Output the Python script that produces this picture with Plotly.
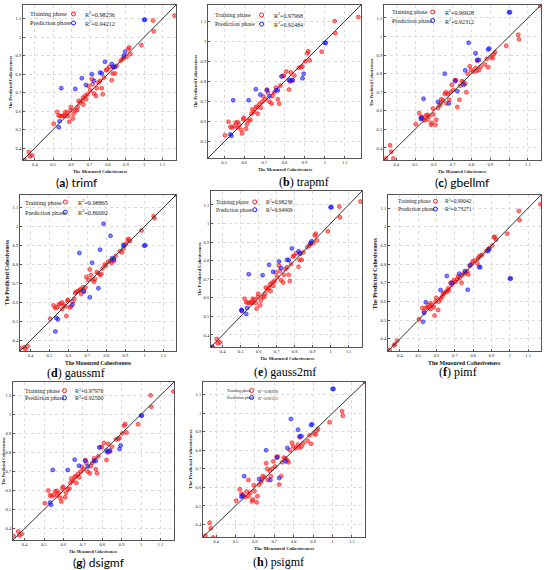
import plotly.graph_objects as go

W, H = 550, 570

# measured cohesiveness (training samples, same for every model)
train_measured = [0.344, 0.367, 0.373, 0.385, 0.504, 0.522, 0.531, 0.540, 0.550, 0.558,
                  0.567, 0.567, 0.576, 0.585, 0.589, 0.595, 0.598, 0.609, 0.613, 0.622,
                  0.631, 0.636, 0.640, 0.649, 0.658, 0.664, 0.667, 0.676, 0.682, 0.689,
                  0.695, 0.704, 0.713, 0.718, 0.725, 0.736, 0.740, 0.749, 0.758, 0.767,
                  0.773, 0.780, 0.791, 0.798, 0.809, 0.822, 0.827, 0.831, 0.840, 0.849,
                  0.871, 0.882, 0.889, 0.904, 0.913, 0.918, 0.925, 0.985, 1.049, 1.053,
                  1.167]

# measured cohesiveness (prediction samples)
test_measured = [0.531, 0.536, 0.545, 0.622, 0.658, 0.680, 0.713, 0.725, 0.758, 0.767,
                 0.785, 0.822, 0.831, 0.840, 0.889, 0.895, 1.000, 1.005]
test_measured_e = [0.340, 0.505, 0.508, 0.531, 0.536, 0.545, 0.622, 0.658, 0.680, 0.713,
                   0.725, 0.758, 0.767, 0.785, 0.822, 0.831, 0.889, 0.895, 1.000, 1.005]
test_measured_f = [0.526, 0.532, 0.541, 0.622, 0.656, 0.683, 0.724, 0.755, 0.770, 0.784,
                   0.832, 0.838, 0.880, 0.886, 1.000, 1.005]

# predicted cohesiveness, training phase
trimf_train = [0.335, 0.378, 0.355, 0.360, 0.531, 0.595, 0.576, 0.573, 0.573, 0.576,
               0.595, 0.573, 0.590, 0.573, 0.542, 0.604, 0.622, 0.560, 0.585, 0.604,
               0.605, 0.622, 0.655, 0.645, 0.655, 0.673, 0.636, 0.682, 0.664, 0.691,
               0.736, 0.713, 0.773, 0.745, 0.695, 0.682, 0.724, 0.755, 0.764, 0.724,
               0.691, 0.782, 0.822, 0.827, 0.840, 0.767, 0.804, 0.836, 0.804, 0.845,
               0.873, 0.882, 0.891, 0.895, 0.936, 0.945, 0.909, 0.958, 1.091, 1.033,
               1.118]
trapmf_train = [0.360, 0.385, 0.365, 0.372, 0.533, 0.600, 0.575, 0.570, 0.578, 0.596,
                0.598, 0.572, 0.585, 0.560, 0.542, 0.612, 0.620, 0.565, 0.588, 0.605,
                0.610, 0.640, 0.662, 0.650, 0.672, 0.675, 0.640, 0.688, 0.670, 0.700,
                0.725, 0.712, 0.760, 0.745, 0.700, 0.690, 0.728, 0.745, 0.770, 0.712,
                0.690, 0.780, 0.828, 0.828, 0.850, 0.760, 0.800, 0.845, 0.805, 0.830,
                0.868, 0.872, 0.875, 0.900, 0.940, 0.950, 0.905, 0.948, 1.100, 1.040,
                1.120]
gbellmf_train = [0.343, 0.414, 0.379, 0.343, 0.528, 0.588, 0.565, 0.560, 0.548, 0.575,
                 0.578, 0.552, 0.570, 0.525, 0.535, 0.612, 0.580, 0.525, 0.552, 0.615,
                 0.628, 0.640, 0.662, 0.655, 0.690, 0.700, 0.640, 0.690, 0.660, 0.700,
                 0.740, 0.712, 0.765, 0.765, 0.620, 0.660, 0.735, 0.760, 0.755, 0.745,
                 0.700, 0.800, 0.840, 0.820, 0.810, 0.830, 0.815, 0.870, 0.820, 0.838,
                 0.850, 0.880, 0.835, 0.890, 0.885, 0.905, 0.915, 0.950, 1.010, 0.985,
                 1.166]
gaussmf_train = [0.360, 0.365, 0.355, 0.370, 0.515, 0.585, 0.570, 0.575, 0.590, 0.595,
                 0.600, 0.565, 0.585, 0.580, 0.530, 0.610, 0.615, 0.575, 0.580, 0.605,
                 0.620, 0.650, 0.655, 0.660, 0.665, 0.670, 0.645, 0.680, 0.660, 0.680,
                 0.735, 0.720, 0.775, 0.745, 0.720, 0.710, 0.725, 0.760, 0.755, 0.745,
                 0.750, 0.780, 0.800, 0.795, 0.815, 0.820, 0.810, 0.825, 0.820, 0.845,
                 0.870, 0.865, 0.885, 0.910, 0.930, 0.935, 0.925, 0.980, 1.055, 1.045,
                 1.170]
gauss2mf_train = trimf_train  # looks identical in the figure
pimf_train = [0.340, 0.365, 0.370, 0.390, 0.505, 0.565, 0.545, 0.565, 0.570, 0.580,
              0.590, 0.560, 0.580, 0.570, 0.525, 0.600, 0.620, 0.555, 0.600, 0.615,
              0.625, 0.640, 0.645, 0.650, 0.655, 0.670, 0.660, 0.700, 0.690, 0.700,
              0.715, 0.705, 0.720, 0.735, 0.725, 0.700, 0.740, 0.750, 0.755, 0.760,
              0.745, 0.790, 0.800, 0.815, 0.820, 0.805, 0.830, 0.840, 0.845, 0.850,
              0.870, 0.880, 0.885, 0.900, 0.945, 0.945, 0.930, 0.963, 1.085, 1.035,
              1.120]
dsigmf_train = trapmf_train
psigmf_train = [0.340, 0.410, 0.380, 0.330, 0.528, 0.590, 0.565, 0.560, 0.548, 0.578,
                0.640, 0.552, 0.570, 0.525, 0.535, 0.612, 0.580, 0.520, 0.552, 0.615,
                0.628, 0.640, 0.660, 0.655, 0.730, 0.700, 0.640, 0.690, 0.660, 0.700,
                0.740, 0.712, 0.765, 0.765, 0.615, 0.660, 0.735, 0.760, 0.755, 0.745,
                0.735, 0.800, 0.840, 0.820, 0.810, 0.830, 0.815, 0.870, 0.820, 0.838,
                0.850, 0.880, 0.835, 0.890, 0.885, 0.905, 0.915, 0.950, 1.010, 0.985,
                1.166]

# predicted cohesiveness, prediction phase
trimf_test = [0.513, 0.545, 0.724, 0.720, 0.778, 0.742, 0.800, 0.764, 0.809, 0.804,
              0.867, 0.855, 0.840, 0.840, 0.900, 0.922, 1.095, 1.095]
trapmf_test = [0.537, 0.530, 0.707, 0.707, 0.762, 0.735, 0.756, 0.726, 0.756, 0.756,
               0.825, 0.808, 0.805, 0.808, 0.816, 0.838, 0.992, 0.992]
gbellmf_test = [0.556, 0.565, 0.665, 0.648, 0.800, 0.640, 0.760, 0.706, 0.741, 0.818,
                0.967, 0.910, 0.874, 0.874, 0.930, 0.936, 1.131, 1.131]
gaussmf_test = [0.448, 0.520, 0.512, 0.590, 0.862, 0.659, 0.628, 0.810, 0.676, 0.879,
                1.015, 0.952, 0.834, 0.828, 0.903, 0.900, 0.900, 0.902]
gauss2mf_test = [0.335, 0.535, 0.530, 0.513, 0.545, 0.727, 0.722, 0.778, 0.740, 0.795,
                 0.760, 0.804, 0.804, 0.866, 0.850, 0.840, 0.895, 0.905, 1.088, 1.088]
pimf_test = [0.491, 0.539, 0.596, 0.661, 0.737, 0.700, 0.749, 0.763, 0.663, 0.795,
             0.784, 0.784, 0.870, 0.880, 0.723, 0.723]
dsigmf_test = [0.537, 0.525, 0.708, 0.708, 0.762, 0.730, 0.756, 0.726, 0.756, 0.756,
               0.826, 0.810, 0.805, 0.810, 0.818, 0.836, 0.994, 0.994]
psigmf_test = [0.550, 0.555, 0.660, 0.645, 0.800, 0.640, 0.760, 0.650, 0.740, 0.812,
               0.968, 0.910, 0.875, 0.875, 0.935, 0.940, 1.130, 1.130]

panels = [
    dict(letter="a", name="trimf", train=trimf_train, tx=test_measured, test=trimf_test,
         r2=("0.98236", "0.94212"), rng=[0.335, 1.175], box=(23, 176, 5, 160),
         leg=(0.03, 0.058, 0.116, 0.33, 0.39, 6.2), tfs=4.5, yt=-0.05, cap=(77, 182, "Lato")),
    dict(letter="b", name="trapmf", train=trapmf_train, tx=test_measured, test=trapmf_test,
         r2=("0.97968", "0.92484"), rng=[0.42, 1.18], box=(208, 361, 5, 158),
         leg=(0.03, 0.065, 0.125, 0.35, 0.42, 6), tfs=4.5, yt=-0.05,
         cap=(304, 182, "Liberation Serif")),
    dict(letter="c", name="gbellmf", train=gbellmf_train, tx=test_measured, test=gbellmf_test,
         r2=("0.96928", "0.92312"), rng=[0.335, 1.17], box=(384, 541, 5, 160),
         leg=(0.04, 0.045, 0.10, 0.31, 0.375, 6), tfs=4, yt=-0.05, cap=(462, 182, "Lato")),
    dict(letter="d", name="gaussmf", train=gaussmf_train, tx=test_measured, test=gaussmf_test,
         r2=("0.98865", "0.80092"), rng=[0.345, 1.167], box=(20, 176, 195, 351),
         leg=(0.02, 0.045, 0.11, 0.29, 0.36, 6.2), tfs=5.5, yt=-0.05,
         cap=(76, 373, "Liberation Serif")),
    dict(letter="e", name="gauss2mf", train=gauss2mf_train, tx=test_measured_e, test=gauss2mf_test,
         r2=("0.98236", "0.94909"), rng=[0.335, 1.175], box=(211, 362, 191, 347),
         leg=(0.02, 0.07, 0.12, 0.29, 0.35, 5.5), tfs=4.5, yt=-0.05,
         cap=(285, 372, "Liberation Serif")),
    dict(letter="f", name="pimf", train=pimf_train, tx=test_measured_f, test=pimf_test,
         r2=("0.99042", "0.73271"), rng=[0.335, 1.17], box=(388, 541, 195, 351),
         leg=(0.05, 0.04, 0.09, 0.31, 0.36, 5.5), tfs=6, yt=-0.05,
         cap=(458, 372, "Liberation Serif")),
    dict(letter="g", name="dsigmf", train=dsigmf_train, tx=test_measured, test=dsigmf_test,
         r2=("0.97976", "0.92500"), rng=[0.34, 1.17], box=(13, 174, 382, 540),
         leg=(0.06, 0.055, 0.10, 0.32, 0.375, 5.9), tfs=4, yt=-0.035, cap=(99, 562, "Lato")),
    dict(letter="h", name="psigmf", train=psigmf_train, tx=test_measured, test=psigmf_test,
         r2=("0.96928", "0.92312"), rng=[0.333, 1.167], box=(203, 365, 382, 537),
         leg=(0.135, 0.055, 0.10, 0.30, 0.33, 4.1), tfs=5, yt=-0.05,
         cap=(278, 562, "Liberation Serif")),
]

tick_vals = [0.4, 0.5, 0.6, 0.7, 0.8, 0.9, 1.0, 1.1]
tick_text = ["0.4", "0.5", "0.6", "0.7", "0.8", "0.9", "1", "1.1"]

RED_FILL = "rgba(255,40,40,0.6)"
BLUE_FILL = "rgba(40,40,255,0.6)"
SERIF = "Liberation Serif"

fig = go.Figure()
annotations = []
shapes = []

for i, p in enumerate(panels, start=1):
    sfx = "" if i == 1 else str(i)
    xa, ya = "x" + sfx, "y" + sfx
    x0, x1, y0, y1 = p["box"]
    xdom = [x0 / W, x1 / W]
    ydom = [1 - y1 / H, 1 - y0 / H]

    axis_common = dict(
        range=p["rng"], tickvals=tick_vals, ticktext=tick_text,
        tickfont=dict(family=SERIF, size=4.5, color="#222"),
        showline=True, linecolor="#555", linewidth=0.8, mirror=True,
        ticks="inside", ticklen=2, tickcolor="#555", tickwidth=0.5,
        showgrid=True, gridcolor="#dcdcdc", gridwidth=0.5, griddash="dot",
        zeroline=False,
    )
    fig.update_layout(**{
        "xaxis" + sfx: dict(domain=xdom, anchor=ya, **axis_common),
        "yaxis" + sfx: dict(domain=ydom, anchor=xa, **axis_common),
    })

    # 1:1 reference line
    shapes.append(dict(type="line", xref=xa + " domain", yref=ya + " domain",
                       x0=0, y0=0, x1=1, y1=1, line=dict(color="#333", width=1)))

    fig.add_trace(go.Scatter(
        x=train_measured, y=p["train"], mode="markers", xaxis=xa, yaxis=ya,
        marker=dict(size=4, color=RED_FILL, line=dict(color="red", width=0.5)),
        showlegend=False))
    fig.add_trace(go.Scatter(
        x=p["tx"], y=p["test"], mode="markers", xaxis=xa, yaxis=ya,
        marker=dict(size=4, color=BLUE_FILL, line=dict(color="blue", width=0.5)),
        showlegend=False))

    # in-plot legend
    lx, r1, r2y, mx, rx, lfs = p["leg"]
    for row, (label, val, col) in enumerate([
            ("Training phase", p["r2"][0], "red"),
            ("Prediction phase", p["r2"][1], "blue")]):
        yy = 1 - (r1 if row == 0 else r2y)
        annotations.append(dict(xref=xa + " domain", yref=ya + " domain", x=lx, y=yy,
                                text=label, showarrow=False, xanchor="left", yanchor="middle",
                                font=dict(family=SERIF, size=lfs, color="#222")))
        annotations.append(dict(xref=xa + " domain", yref=ya + " domain", x=rx, y=yy,
                                text="R<sup>2</sup>=" + val, showarrow=False,
                                xanchor="left", yanchor="middle",
                                font=dict(family=SERIF, size=lfs, color="#222")))
        shapes.append(dict(type="circle", xref=xa + " domain", yref=ya + " domain",
                           xsizemode="pixel", ysizemode="pixel", xanchor=mx, yanchor=yy,
                           x0=-2, x1=2, y0=-2, y1=2,
                           fillcolor="rgba(255,255,255,0)", line=dict(color=col, width=0.9)))

    # axis titles
    annotations.append(dict(xref=xa + " domain", yref=ya + " domain", x=0.5, y=-0.045,
                            text="<b>The Measured Cohesiveness</b>", showarrow=False,
                            xanchor="center", yanchor="top",
                            font=dict(family=SERIF, size=p["tfs"], color="#111")))
    annotations.append(dict(xref=xa + " domain", yref=ya + " domain", x=p["yt"], y=0.5,
                            text="<b>The Predicted Cohesiveness</b>", showarrow=False,
                            textangle=-90, xanchor="right", yanchor="middle",
                            font=dict(family=SERIF, size=p["tfs"], color="#111")))

    # caption
    cx, cy, cfont = p["cap"]
    annotations.append(dict(xref="paper", yref="paper", x=cx / W, y=1 - cy / H,
                            text="(<b>%s</b>) %s" % (p["letter"], p["name"]), showarrow=False,
                            xanchor="center", yanchor="middle",
                            font=dict(family=cfont, size=12, color="#000")))

fig.update_layout(
    width=W, height=H,
    margin=dict(l=0, r=0, t=0, b=0),
    paper_bgcolor="white", plot_bgcolor="white",
    annotations=annotations, shapes=shapes,
    showlegend=False,
)

# drop the default page margin so the figure sits at the window's top-left corner
fig.write_html("out.html", config={"displayModeBar": False},
               post_script="document.body.style.margin='0';")
